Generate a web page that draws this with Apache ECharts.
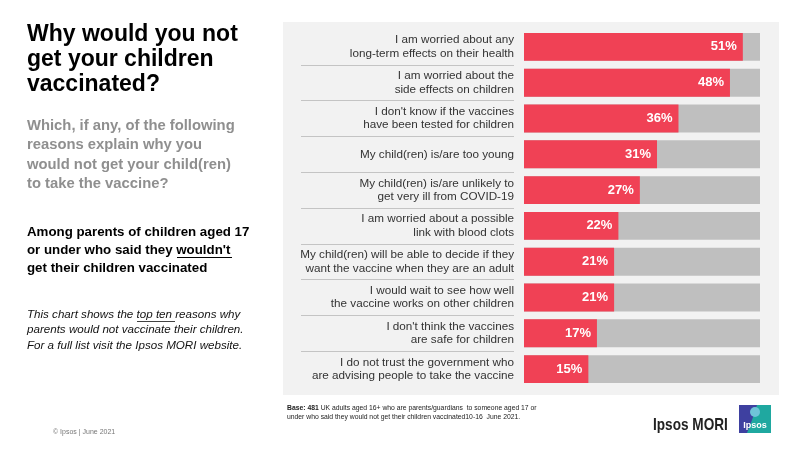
<!DOCTYPE html>
<html>
<head>
<meta charset="utf-8">
<script src="https://cdn.jsdelivr.net/npm/echarts@6/dist/echarts.min.js"></script>
<style>
html,body{margin:0;padding:0;background:#fff;}
#chart{width:800px;height:450px;}
</style>
</head>
<body>
<div id="chart"></div>
<script>
var categories = [
  "I am worried about any\nlong-term effects on their health",
  "I am worried about the\nside effects on children",
  "I don't know if the vaccines\nhave been tested for children",
  "My child(ren) is/are too young",
  "My child(ren) is/are unlikely to\nget very ill from COVID-19",
  "I am worried about a possible\nlink with blood clots",
  "My child(ren) will be able to decide if they\nwant the vaccine when they are an adult",
  "I would wait to see how well\nthe vaccine works on other children",
  "I don't think the vaccines\nare safe for children",
  "I do not trust the government who\nare advising people to take the vaccine"
];
var values = [51, 48, 36, 31, 27, 22, 21, 21, 17, 15];

var titleLines = ["Why would you not", "get your children", "vaccinated?"];
var questionLines = ["Which, if any, of the following", "reasons explain why you", "would not get your child(ren)", "to take the vaccine?"];
var baseLines = ["Among parents of children aged 17", "or under who said they wouldn't", "get their children vaccinated"];
var noteLines = ["This chart shows the top ten reasons why", "parents would not vaccinate their children.", "For a full list visit the Ipsos MORI website."];

var AR = "Arial, 'Liberation Sans', sans-serif";
var chart = echarts.init(document.getElementById('chart'), null, {renderer: 'canvas'});

function txt(t, x, y, font, fill, extra) {
  var s = {text: t, x: x, y: y, font: font, fill: fill, textVerticalAlign: 'middle', textAlign: 'left'};
  if (extra) for (var k in extra) s[k] = extra[k];
  return {type: 'text', z: 10, style: s};
}

var graphics = [
  {type: 'rect', z: -10, shape: {x: 283, y: 22, width: 496, height: 373}, style: {fill: '#F2F2F2'}}
];
var titleY = [35, 60, 85];
titleLines.forEach(function (l, i) { graphics.push(txt(l, 27, titleY[i], 'bold 23px ' + AR, '#000')); });
var qY = [125.5, 145, 164.5, 184];
questionLines.forEach(function (l, i) { graphics.push(txt(l, 27, qY[i], 'bold 14.8px ' + AR, '#8F8F8F')); });
var bY = [232.5, 250.3, 268];
baseLines.forEach(function (l, i) { graphics.push(txt(l, 27, bY[i], 'bold 13.3px ' + AR, '#000')); });
graphics.push({type: 'line', z: 10, shape: {x1: 177, y1: 257.5, x2: 232, y2: 257.5}, style: {stroke: '#000', lineWidth: 1}});
var nY = [314.8, 330.2, 345.8];
noteLines.forEach(function (l, i) { graphics.push(txt(l, 27, nY[i], 'italic 11.6px ' + AR, '#111')); });
graphics.push({type: 'line', z: 10, shape: {x1: 137, y1: 321.5, x2: 175, y2: 321.5}, style: {stroke: '#111', lineWidth: 0.8}});
graphics.push(txt('\u00A9 Ipsos | June 2021', 53, 432, '7px ' + AR, '#777'));
graphics.push({
  type: 'text', z: 10,
  style: {
    text: '{b|Base: 481} UK adults aged 16+ who are parents/guardians  to someone aged 17 or\nunder who said they would not get their children vaccinated10-16  June 2021.',
    x: 287, y: 403, font: '6.8px ' + AR, fill: '#222', lineHeight: 9.5,
    textVerticalAlign: 'top',
    rich: {b: {fontWeight: 'bold', fontSize: 6.8, fill: '#222', fontFamily: AR}}
  }
});
graphics.push({
  type: 'text', z: 10, x: 653, y: 425, scaleX: 0.8,
  style: {text: 'Ipsos MORI', x: 0, y: 0, font: 'bold 17px ' + AR, fill: '#222', textVerticalAlign: 'middle', textAlign: 'left'}
});
graphics.push({type: 'rect', z: 10, shape: {x: 739, y: 405, width: 32, height: 28}, style: {fill: '#3E40A0'}});
graphics.push({type: 'polygon', z: 11, shape: {points: [[757, 405], [771, 405], [771, 433], [747, 433], [752, 420]]}, style: {fill: '#1FA8A0'}});
graphics.push({type: 'circle', z: 12, shape: {cx: 755, cy: 412, r: 5}, style: {fill: '#6FC4D8'}});
graphics.push({type: 'text', z: 13, style: {text: 'Ipsos', x: 755, y: 426, font: 'bold 9px ' + AR, fill: '#fff', textAlign: 'center', textVerticalAlign: 'middle'}});

var option = {
  animation: false,
  backgroundColor: '#fff',
  textStyle: {fontFamily: AR},
  graphic: graphics,
  grid: [
    {left: 524, top: 29, width: 236, height: 358},
    {left: 301, top: 29, width: 213, height: 358}
  ],
  xAxis: [
    {gridIndex: 0, type: 'value', min: 0, max: 55, show: false},
    {gridIndex: 1, type: 'value', min: 0, max: 1, show: false}
  ],
  yAxis: [
    {
      gridIndex: 0, type: 'category', inverse: true, data: categories,
      axisLine: {show: false}, axisTick: {show: false}, splitLine: {show: false},
      axisLabel: {align: 'right', margin: 10, fontSize: 11.7, lineHeight: 13.5, color: '#333', fontFamily: AR}
    },
    {
      gridIndex: 1, type: 'category', inverse: true, data: categories,
      axisLine: {show: false}, axisTick: {show: false}, axisLabel: {show: false},
      splitLine: {show: true, showMinLine: false, showMaxLine: false, lineStyle: {color: '#C4C4C4', width: 1}}
    }
  ],
  series: [{
    type: 'bar', xAxisIndex: 0, yAxisIndex: 0,
    data: values, barWidth: '78%',
    itemStyle: {color: '#F04155'},
    showBackground: true,
    backgroundStyle: {color: '#BFBFBF'},
    label: {
      show: true, position: 'insideRight', distance: 6,
      formatter: '{c}%', color: '#fff', fontWeight: 'bold', fontSize: 13, fontFamily: AR
    }
  }]
};
chart.setOption(option);
</script>
</body>
</html>
